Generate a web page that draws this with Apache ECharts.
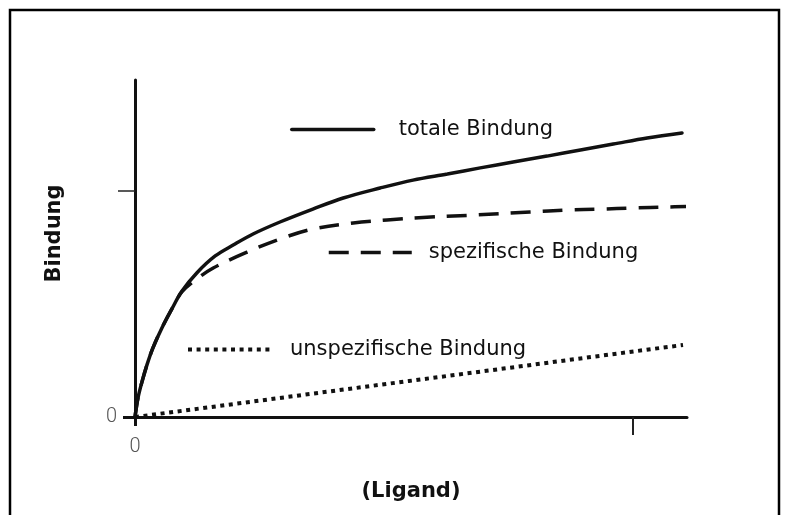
<!DOCTYPE html>
<html>
<head>
<meta charset="utf-8">
<script src="https://cdn.jsdelivr.net/npm/echarts@6/dist/echarts.min.js"></script>
<style>html,body{margin:0;padding:0;background:#fff}#c{width:788px;height:515px}</style>
</head>
<body>
<div id="c"></div>
<script>
// ---- data (axis units: tick at x=10 and y=10) ----
const seriesNames = ['totale Bindung', 'spezifische Bindung', 'unspezifische Bindung'];
const totalX = [0, 0.06, 0.14, 0.24, 0.36, 0.54, 0.74, 0.94, 1.24, 1.61, 1.97, 2.37, 2.91, 3.57, 4.18, 4.92, 5.58, 6.27, 6.93, 7.59, 8.27, 8.94, 9.6, 10.28, 10.98];
const totalY = [0, 0.84, 1.55, 2.3, 3.05, 3.93, 4.77, 5.55, 6.36, 7.11, 7.59, 8.08, 8.61, 9.18, 9.67, 10.11, 10.46, 10.73, 11.0, 11.26, 11.52, 11.79, 12.05, 12.32, 12.54];
const specX = [0, 0.06, 0.14, 0.24, 0.36, 0.54, 0.74, 0.94, 1.24, 1.57, 2.25, 2.91, 3.57, 4.38, 5.06, 5.78, 6.67, 7.93, 8.67, 9.34, 10.0, 10.68, 11.06];
const specY = [0, 0.84, 1.55, 2.3, 3.05, 3.93, 4.77, 5.52, 6.09, 6.58, 7.28, 7.86, 8.3, 8.57, 8.7, 8.81, 8.9, 9.05, 9.14, 9.18, 9.23, 9.27, 9.29];
const unspecX = [0, 5.5, 8.54, 11.0];
const unspecY = [0, 1.59, 2.47, 3.18];
const xTickValues = [10];
const yTickValues = [10];
const xLabelValues = [0];
const yLabelValues = [0];
const xAxisName = '(Ligand)';
const yAxisName = 'Bindung';

const zip = (a, b) => a.map((v, i) => [v, b[i]]);
const INK = '#111';
const FONT = 'DejaVu Sans';

const legendBase = (name, left, top, w, pad, lw) => ({
  data: [name], left: left, top: top, orient: 'horizontal',
  itemWidth: w, itemHeight: 14, selectedMode: false, padding: 0,
  itemStyle: { opacity: 0 },
  lineStyle: { width: lw, color: INK },
  textStyle: { fontFamily: FONT, fontSize: 21, color: INK, padding: [0, 0, 0, pad] }
});

const chart = echarts.init(document.getElementById('c'), null, { renderer: 'canvas' });
chart.setOption({
  animation: false,
  backgroundColor: '#fff',
  grid: { left: 135, top: 80, width: 552, height: 337, containLabel: false, outerBoundsMode: 'none' },
  xAxis: [
    {
      type: 'value', min: 0, max: 11.08, position: 'bottom',
      name: xAxisName, nameLocation: 'middle', nameGap: 64,
      nameTextStyle: { fontFamily: FONT, fontSize: 21, fontWeight: 'bold', color: INK },
      axisLine: { show: true, lineStyle: { color: INK, width: 3 } },
      axisTick: { show: true, customValues: xTickValues, length: 18, lineStyle: { color: '#222', width: 2 } },
      axisLabel: { show: true, customValues: xLabelValues, margin: 20, fontFamily: 'Roboto', fontWeight: 300, fontSize: 20, color: '#555' },
      splitLine: { show: false }
    },
    {
      type: 'value', min: 0, max: 11.08, position: 'bottom',
      axisLine: { show: true, lineStyle: { color: 'rgba(0,0,0,0)', width: 0 } },
      axisTick: { show: true, customValues: [0], length: 9, lineStyle: { color: INK, width: 3 } },
      axisLabel: { show: false },
      splitLine: { show: false }
    }
  ],
  yAxis: [
    {
      type: 'value', min: 0, max: 14.88, position: 'left',
      name: yAxisName, nameLocation: 'middle', nameGap: 70, nameRotate: 90,
      nameTextStyle: { fontFamily: FONT, fontSize: 21, fontWeight: 'bold', color: INK, padding: [0, 0, 0, 30] },
      axisLine: { show: true, lineStyle: { color: INK, width: 3 } },
      axisTick: { show: true, customValues: yTickValues, length: 17, lineStyle: { color: '#222', width: 1.5 } },
      axisLabel: { show: true, customValues: yLabelValues, margin: 18, fontFamily: 'Roboto', fontWeight: 300, fontSize: 20, color: '#555' },
      splitLine: { show: false }
    },
    {
      type: 'value', min: 0, max: 14.88, position: 'left',
      axisLine: { show: true, lineStyle: { color: 'rgba(0,0,0,0)', width: 0 } },
      axisTick: { show: true, customValues: [0], length: 12, lineStyle: { color: INK, width: 3 } },
      axisLabel: { show: false },
      splitLine: { show: false }
    }
  ],
  legend: [
    legendBase(seriesNames[0], 290, 119, 82, 20, 3.5),
    legendBase(seriesNames[1], 327, 242, 83, 12, 3.5),
    legendBase(seriesNames[2], 186, 339, 82, 15, 4)
  ],
  series: [
    {
      name: seriesNames[0], type: 'line', data: zip(totalX, totalY), smooth: 0.35,
      symbol: 'none', showSymbol: false,
      lineStyle: { color: INK, width: 3.5, type: 'solid', cap: 'round' }, itemStyle: { color: INK }
    },
    {
      name: seriesNames[1], type: 'line', data: zip(specX, specY), smooth: 0.35,
      symbol: 'none', showSymbol: false,
      lineStyle: { color: INK, width: 3.5, type: [20, 12], cap: 'butt' }, itemStyle: { color: INK }
    },
    {
      name: seriesNames[2], type: 'line', data: zip(unspecX, unspecY), smooth: false,
      symbol: 'none', showSymbol: false,
      lineStyle: { color: INK, width: 4, type: [4, 4.6], cap: 'butt' }, itemStyle: { color: INK }
    }
  ],
  graphic: [
    { type: 'rect', silent: true, z: 100, shape: { x: 10, y: 10, width: 769, height: 530 },
      style: { fill: 'none', stroke: '#000', lineWidth: 2.5 } }
  ]
});
</script>
</body>
</html>
